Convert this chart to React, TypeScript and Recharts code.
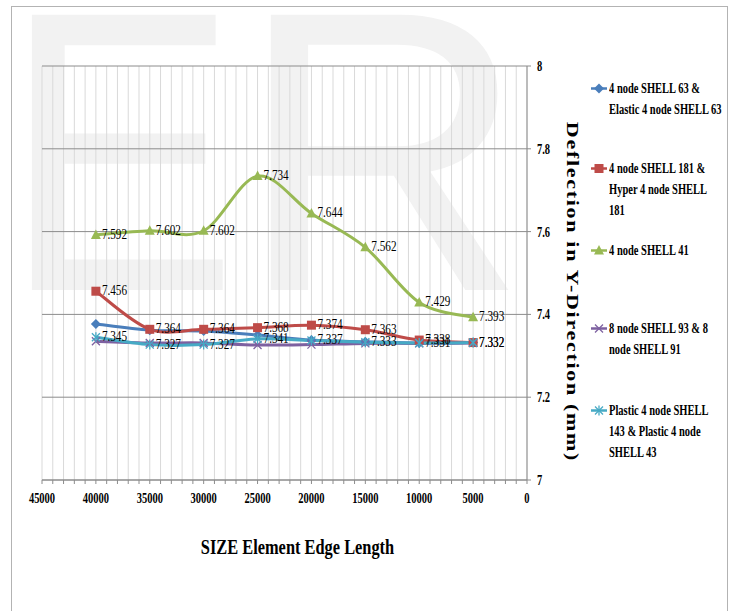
import React from "react";
import {
  LineChart, Line, XAxis, YAxis, CartesianGrid, Legend, LabelList, Label,
} from "recharts";

// ── data ─────────────────────────────────────────────────────────────────────

const SIZES = [40000, 35000, 30000, 25000, 20000, 15000, 10000, 5000];
const SHELL_63 = [7.377, 7.362, 7.36, 7.35, 7.338, 7.334, 7.331, 7.332];
const SHELL_181 = [7.456, 7.364, 7.364, 7.368, 7.374, 7.363, 7.338, 7.332];
const SHELL_41 = [7.592, 7.602, 7.602, 7.734, 7.644, 7.562, 7.429, 7.393];
const SHELL_93 = [7.335, 7.331, 7.331, 7.326, 7.327, 7.33, 7.33, 7.331];
const SHELL_143 = [7.345, 7.327, 7.327, 7.341, 7.337, 7.333, 7.331, 7.332];

const X_MINOR = Array.from({ length: 46 }, (_, i) => i * 1000);
const Y_TICKS = [7, 7.2, 7.4, 7.6, 7.8, 8];

const X_TITLE = "SIZE Element Edge Length";
const Y_TITLE = "Deflection in Y-Direction (mm)";

type Shape = "diamond" | "square" | "triangle" | "cross" | "star";

interface SeriesDef {
  key: string;
  lines: string[];
  color: string;
  shape: Shape;
  values: number[];
  labels: boolean;
}

const SERIES: SeriesDef[] = [
  { key: "s63", lines: ["4 node SHELL 63 &", "Elastic 4 node SHELL 63"], color: "#4a7ebb", shape: "diamond", values: SHELL_63, labels: false },
  { key: "s181", lines: ["4 node SHELL 181 &", "Hyper 4 node SHELL", "181"], color: "#be4b48", shape: "square", values: SHELL_181, labels: true },
  { key: "s41", lines: ["4 node SHELL 41"], color: "#98b954", shape: "triangle", values: SHELL_41, labels: true },
  { key: "s93", lines: ["8 node SHELL 93 & 8", "node SHELL 91"], color: "#7d60a0", shape: "cross", values: SHELL_93, labels: false },
  { key: "s143", lines: ["Plastic 4 node SHELL", "143 & Plastic 4 node", "SHELL 43"], color: "#46aac5", shape: "star", values: SHELL_143, labels: true },
];

const chartData = SIZES.map((size, i) => {
  const row: Record<string, number> = { size };
  SERIES.forEach((s) => { row[s.key] = s.values[i]; });
  return row;
});

// ── helpers ──────────────────────────────────────────────────────────────────

const SERIF = "'Liberation Serif', 'Times New Roman', serif";
const LEGEND_TOPS = [78, 158, 240, 318, 400];

// Excel-like smoothed line (Catmull-Rom as bezier)
function excelCurve(context: any) {
  let pts: number[][] = [];
  return {
    areaStart() {},
    areaEnd() {},
    lineStart() { pts = []; },
    point(x: number, y: number) { pts.push([+x, +y]); },
    lineEnd() {
      if (!pts.length) return;
      context.moveTo(pts[0][0], pts[0][1]);
      const t = 1 / 6;
      for (let i = 0; i < pts.length - 1; i++) {
        const p0 = pts[i - 1] || pts[i];
        const p1 = pts[i];
        const p2 = pts[i + 1];
        const p3 = pts[i + 2] || p2;
        context.bezierCurveTo(
          p1[0] + (p2[0] - p0[0]) * t, p1[1] + (p2[1] - p0[1]) * t,
          p2[0] - (p3[0] - p1[0]) * t, p2[1] - (p3[1] - p1[1]) * t,
          p2[0], p2[1]
        );
      }
    },
  };
}

function CondText({ x, y, size, weight = "bold", anchor = "start", sx = 0.75, children }: any) {
  return (
    <text
      transform={`translate(${x},${y}) scale(${sx},1)`}
      fontFamily={SERIF}
      fontSize={size}
      fontWeight={weight}
      textAnchor={anchor}
      fill="#000"
    >
      {children}
    </text>
  );
}

function Marker({ shape, cx, cy, color }: { shape: Shape; cx: number; cy: number; color: string }) {
  switch (shape) {
    case "diamond":
      return <polygon points={`${cx},${cy - 5} ${cx + 5},${cy} ${cx},${cy + 5} ${cx - 5},${cy}`} fill={color} />;
    case "square":
      return <rect x={cx - 4.5} y={cy - 4.5} width={9} height={9} fill={color} />;
    case "triangle":
      return <polygon points={`${cx},${cy - 5.5} ${cx + 5},${cy + 4} ${cx - 5},${cy + 4}`} fill={color} />;
    case "cross":
      return (
        <g stroke={color} strokeWidth={1.3}>
          <line x1={cx - 4} y1={cy - 4} x2={cx + 4} y2={cy + 4} />
          <line x1={cx - 4} y1={cy + 4} x2={cx + 4} y2={cy - 4} />
        </g>
      );
    default:
      return (
        <g stroke={color} strokeWidth={1.3}>
          <line x1={cx - 4} y1={cy - 4} x2={cx + 4} y2={cy + 4} />
          <line x1={cx - 4} y1={cy + 4} x2={cx + 4} y2={cy - 4} />
          <line x1={cx} y1={cy - 5} x2={cx} y2={cy + 5} />
        </g>
      );
  }
}

const XTick = ({ x, y, payload }: any) =>
  payload.value % 5000 === 0 ? (
    <CondText x={x} y={y + 13} size={14} anchor="middle">{payload.value}</CondText>
  ) : null;

const YTick = ({ x, y, payload }: any) => (
  <CondText x={x} y={y + 5} size={14}>{String(+Number(payload.value).toFixed(1))}</CondText>
);

const renderLegend = () => (
  <div style={{ position: "relative", width: 140, height: 400 }}>
    {SERIES.map((s, i) => (
      <div key={s.key} style={{ position: "absolute", left: 0, top: LEGEND_TOPS[i] - 78 }}>
        <svg width={18} height={21} style={{ position: "absolute", left: 0, top: 0 }}>
          <line x1={1} y1={10.5} x2={17} y2={10.5} stroke={s.color} strokeWidth={2.5} />
          <Marker shape={s.shape} cx={9} cy={10.5} color={s.color} />
        </svg>
        <div style={{ position: "absolute", left: 19, top: 0 }}>
          {s.lines.map((ln) => (
            <div
              key={ln}
              style={{
                fontFamily: SERIF, fontWeight: "bold", fontSize: 15, lineHeight: "21px",
                whiteSpace: "nowrap", transform: "scaleX(0.7)", transformOrigin: "left center", color: "#000",
              }}
            >
              {ln}
            </div>
          ))}
        </div>
      </div>
    ))}
  </div>
);

// ── chart ────────────────────────────────────────────────────────────────────

export default function App() {
  return (
    <div style={{ position: "absolute", left: 0, top: 0, width: 737, height: 611, background: "#fff", overflow: "hidden" }}>
      {/* frame */}
      <div style={{
        position: "absolute", left: 11, top: 6, width: 717, height: 610,
        border: "1.5px solid #b3b3b3", borderBottom: "none", boxSizing: "border-box",
      }} />
      {/* watermark */}
      <svg width={737} height={611} style={{ position: "absolute", left: 0, top: 0 }}>
        <g fontFamily="'Liberation Sans', Arial, sans-serif" fontSize={400} fill="#f2f2f2">
          <text transform="translate(3,290) scale(0.88,1)">E</text>
          <text transform="translate(238,290)">R</text>
        </g>
      </svg>
      <div style={{ position: "absolute", left: 0, top: 0 }}>
        <LineChart width={737} height={611} data={chartData} margin={{ top: 66, left: 42, right: 170, bottom: 101 }}>
          <CartesianGrid horizontal={false} stroke="#d9d9d9" strokeWidth={1} />
          <CartesianGrid vertical={false} stroke="#8c8c8c" strokeWidth={1} />
          <XAxis
            dataKey="size"
            type="number"
            domain={[0, 45000]}
            reversed
            ticks={X_MINOR}
            interval={0}
            height={30}
            tick={<XTick />}
            tickSize={4}
            tickMargin={6}
            stroke="#8c8c8c"
          >
            <Label
              content={({ viewBox }: any) => (
                <CondText x={viewBox.x + viewBox.width / 2 + 13} y={viewBox.y + 74} size={21} anchor="middle" sx={0.78}>
                  {X_TITLE}
                </CondText>
              )}
            />
          </XAxis>
          <YAxis
            orientation="right"
            type="number"
            domain={[7, 8]}
            ticks={Y_TICKS}
            width={40}
            tick={<YTick />}
            tickSize={4}
            tickMargin={6}
            stroke="#8c8c8c"
          >
            <Label
              content={({ viewBox }: any) => (
                <text
                  transform={`translate(${viewBox.x + 40},${viewBox.y + viewBox.height / 2 + 19}) rotate(90) scale(1,0.75)`}
                  fontFamily={SERIF}
                  fontSize={22}
                  fontWeight="bold"
                  letterSpacing={1.7}
                  textAnchor="middle"
                  fill="#000"
                >
                  {Y_TITLE}
                </text>
              )}
            />
          </YAxis>
          <Legend
            layout="vertical"
            align="center"
            verticalAlign="middle"
            content={renderLegend}
            wrapperStyle={{ left: 590, top: 78, width: 140, height: 400 }}
          />
          {SERIES.map((s) => (
            <Line
              key={s.key}
              dataKey={s.key}
              type={excelCurve as any}
              stroke={s.color}
              strokeWidth={3}
              isAnimationActive={false}
              dot={(p: any) => <Marker key={`${s.key}-${p.index}`} shape={s.shape} cx={p.cx} cy={p.cy} color={s.color} />}
              activeDot={false}
            >
              {s.labels && (
                <LabelList
                  dataKey={s.key}
                  content={(p: any) => (
                    <CondText x={p.x + 6} y={p.y + 4} size={14} sx={0.8} weight="normal">{p.value}</CondText>
                  )}
                />
              )}
            </Line>
          ))}
        </LineChart>
      </div>
    </div>
  );
}
